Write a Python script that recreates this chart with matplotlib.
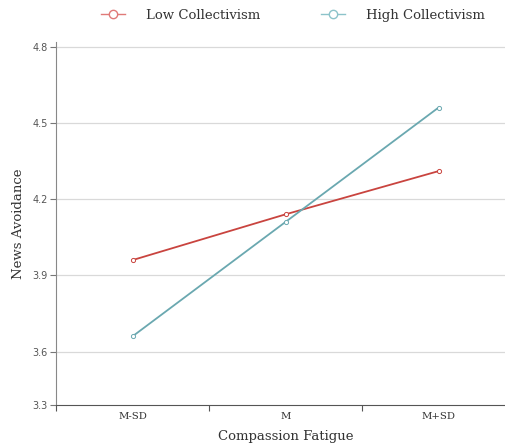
import matplotlib
matplotlib.use("Agg")
import matplotlib.pyplot as plt
from matplotlib.lines import Line2D

# data
categories = ["M-SD", "M", "M+SD"]
low_collectivism = [3.96, 4.14, 4.31]
high_collectivism = [3.66, 4.11, 4.56]
y_ticks = [3.39, 3.6, 3.9, 4.2, 4.5, 4.8]
y_tick_labels = ["3.3", "3.6", "3.9", "4.2", "4.5", "4.8"]

red = "#c9443f"
teal = "#6aa8b0"
serif = "DejaVu Serif"

fig = plt.figure(figsize=(5.05, 4.46), dpi=100)
ax = fig.add_axes([56 / 505, 41 / 446, 459 / 505, 363 / 446])

x = range(len(categories))
ax.plot(x, low_collectivism, "-o", color=red, lw=1.3, ms=3,
        mfc="white", mec=red, mew=0.7)
ax.plot(x, high_collectivism, "-o", color=teal, lw=1.3, ms=3,
        mfc="white", mec=teal, mew=0.7)

ax.set_xlim(-0.5, 2.5)
ax.set_ylim(3.39, 4.818)
ax.set_yticks(y_ticks)
ax.set_yticklabels(y_tick_labels, fontsize=7, color="#555555")
for yv in y_ticks[1:]:
    ax.axhline(yv, color="#d9d9d9", lw=0.9, zorder=0)

# categories sit in bands, ticks mark the band edges
ax.set_xticks([-0.5, 0.5, 1.5])
ax.set_xticklabels([])
ax.set_xticks(list(x), minor=True)
ax.set_xticklabels(categories, minor=True, fontsize=7.3, family=serif, color="#333333")
ax.tick_params(axis="x", which="minor", length=0, pad=5)
ax.tick_params(axis="x", which="major", length=4, color="#555555")
ax.tick_params(axis="y", length=4, color="#777777", pad=2)

for s in ["top", "right"]:
    ax.spines[s].set_visible(False)
ax.spines["left"].set_color("#888888")
ax.spines["bottom"].set_color("#555555")

ax.set_xlabel("Compassion Fatigue", family=serif, fontsize=9.5, color="#333333", labelpad=6.5)
ax.set_ylabel("News Avoidance", family=serif, fontsize=9.5, color="#333333", labelpad=5.5)

handles = [
    Line2D([], [], color="#e07a78", lw=1, marker="o", ms=6, mfc="white", mec="#e07a78"),
    Line2D([], [], color="#8cc3ca", lw=1, marker="o", ms=6, mfc="white", mec="#8cc3ca"),
]
fig.legend(handles, ["Low Collectivism", "High Collectivism"], loc="center",
           bbox_to_anchor=(0.58, 0.965), ncol=2, frameon=False, handlelength=1.8,
           columnspacing=4.65, handletextpad=1.6,
           prop={"family": serif, "size": 9.5})
for t in fig.legends[0].get_texts():
    t.set_color("#333333")

fig.savefig("out.png", dpi=100)
